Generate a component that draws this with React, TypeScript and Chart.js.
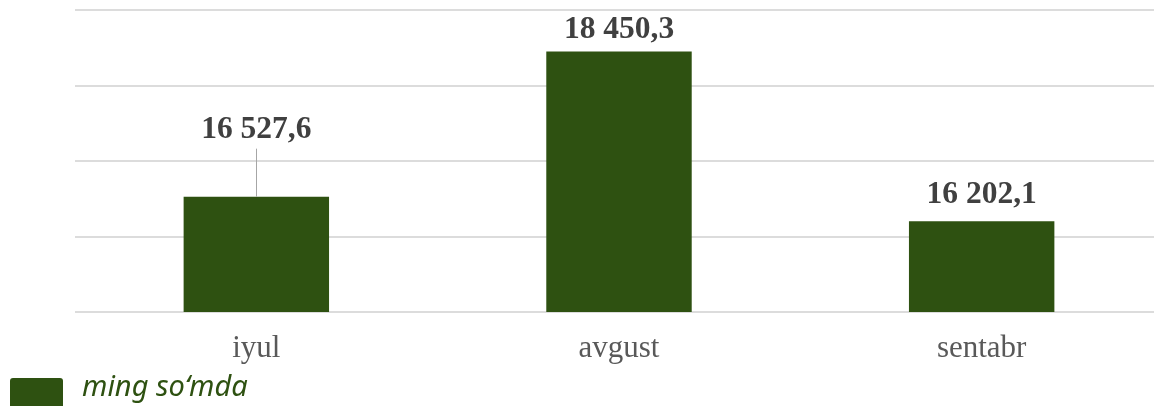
import React, { useEffect, useRef } from "react";
import { Chart, registerables } from "chart.js";

Chart.register(...registerables);

// ---- data ----
const categories = ["iyul", "avgust", "sentabr"];
const values = [16527.6, 18450.3, 16202.1];
const valueLabels = ["16 527,6", "18 450,3", "16 202,1"];
const seriesName = "ming so‘mda";
const yMin = 15000;
const yMax = 19000;
const yStep = 1000;

// ---- styling ----
const GREEN = "#2e5111";
const LABEL_COLOR = "#404040";
const AXIS_TEXT = "#595959";
const GRID = "#dcdcdc";
const labelLift = [59, 13.5, 18];
const leaderLine = [true, false, false];

const dataLabelPlugin = {
  id: "dataLabels",
  afterDatasetsDraw(chart: any) {
    const ctx = chart.ctx;
    const meta = chart.getDatasetMeta(0);
    ctx.save();
    meta.data.forEach((el: any, i: number) => {
      const x = el.x;
      const top = el.y;
      const base = top - labelLift[i];
      ctx.font = "bold 31.5px 'Liberation Serif', 'Times New Roman', serif";
      ctx.fillStyle = LABEL_COLOR;
      ctx.textAlign = "center";
      ctx.textBaseline = "alphabetic";
      ctx.fillText(valueLabels[i], x, base);
      if (leaderLine[i]) {
        ctx.strokeStyle = "#a6a6a6";
        ctx.lineWidth = 1;
        ctx.beginPath();
        ctx.moveTo(Math.round(x) + 0.5, base + 11);
        ctx.lineTo(Math.round(x) + 0.5, top);
        ctx.stroke();
      }
    });
    ctx.restore();
  },
};

const legendPlugin = {
  id: "customLegend",
  afterDraw(chart: any) {
    const ctx = chart.ctx;
    ctx.save();
    ctx.fillStyle = GREEN;
    ctx.beginPath();
    if (ctx.roundRect) ctx.roundRect(10, 378, 53, 40, 3);
    else ctx.rect(10, 378, 53, 40);
    ctx.fill();
    ctx.font = "italic 29px 'Noto Sans', 'Open Sans', sans-serif";
    ctx.fillStyle = GREEN;
    ctx.textAlign = "left";
    ctx.textBaseline = "alphabetic";
    ctx.fillText(seriesName, 82, 396);
    ctx.restore();
  },
};

export default function App() {
  const canvasRef = useRef<HTMLCanvasElement | null>(null);

  useEffect(() => {
    if (!canvasRef.current) return;
    const chart = new Chart(canvasRef.current, {
      type: "bar",
      data: {
        labels: categories,
        datasets: [
          {
            label: seriesName,
            data: values,
            backgroundColor: GREEN,
            borderWidth: 0,
            categoryPercentage: 1,
            barPercentage: 0.401,
          },
        ],
      },
      options: {
        responsive: false,
        animation: false,
        devicePixelRatio: 1,
        layout: { padding: { top: 10, left: 0, right: 0, bottom: 0 } },
        plugins: {
          legend: { display: false },
          tooltip: { enabled: false },
          title: { display: false },
        },
        scales: {
          x: {
            grid: { display: false, drawTicks: false },
            border: { display: false },
            ticks: {
              color: AXIS_TEXT,
              padding: 18,
              font: { family: "'Liberation Serif', 'Times New Roman', serif", size: 31 },
            },
            afterFit: (s: any) => {
              s.height = 94;
            },
          },
          y: {
            min: yMin,
            max: yMax,
            ticks: { display: false, stepSize: yStep },
            grid: { color: GRID, lineWidth: 2, drawTicks: false },
            border: { display: false },
            afterFit: (s: any) => {
              s.width = 75;
            },
          },
        },
      },
      plugins: [dataLabelPlugin, legendPlugin],
    });
    return () => chart.destroy();
  }, []);

  return (
    <div
      style={{
        position: "fixed",
        left: 0,
        top: 0,
        width: 1154,
        height: 406,
        overflow: "hidden",
        background: "#ffffff",
      }}
    >
      <canvas ref={canvasRef} width={1163} height={406} style={{ display: "block" }} />
    </div>
  );
}
